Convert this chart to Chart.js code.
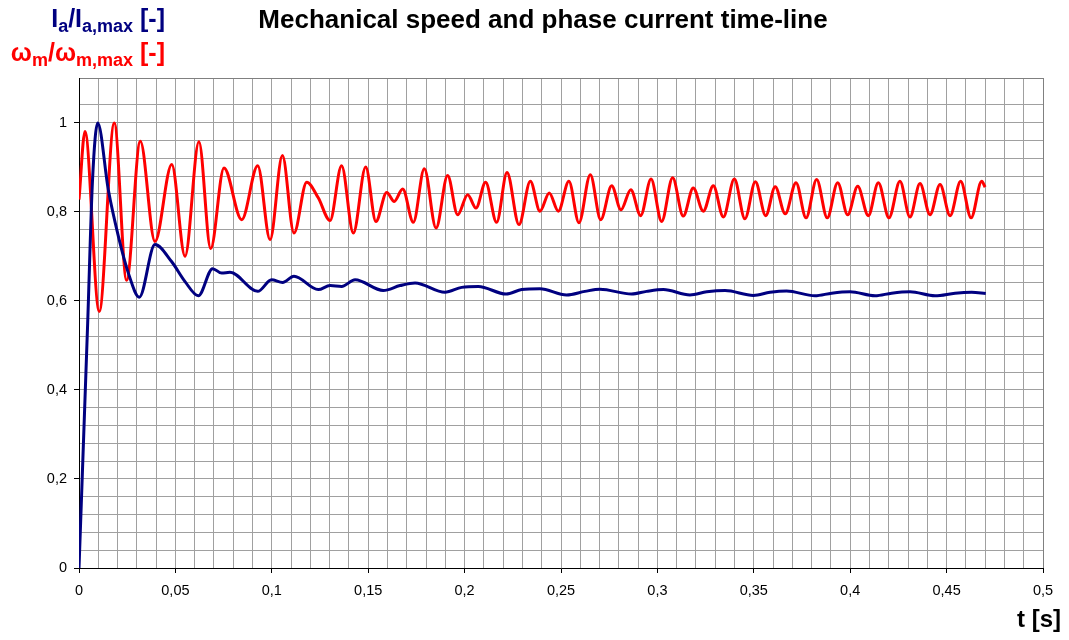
<!DOCTYPE html>
<html>
<head>
<meta charset="utf-8">
<title>Mechanical speed and phase current time-line</title>
<script src="https://cdn.jsdelivr.net/npm/chart.js@4/dist/chart.umd.min.js"></script>
<style>
  html, body { margin: 0; padding: 0; background: #fff; }
  #wrap { width: 1069px; height: 640px; }
</style>
</head>
<body>
<div id="wrap"><canvas id="chart" width="1069" height="640"></canvas></div>
<script>
// --- Data (time in s, values normalised) ---

// mechanical speed w_m / w_m,max (red)
const speedTime = [
  0, 0.0031, 0.0105, 0.0183, 0.0247, 0.0318, 0.0394, 0.0481, 0.055, 0.0622,
  0.0683, 0.0752, 0.0844, 0.0927, 0.0991, 0.1055, 0.1115, 0.1181, 0.1241, 0.1302,
  0.1362, 0.1423, 0.1487, 0.154, 0.1596, 0.1635, 0.1679, 0.1734, 0.1791, 0.1852,
  0.1912, 0.1964, 0.2016, 0.2059, 0.2109, 0.2166, 0.222, 0.2282, 0.2341, 0.2391,
  0.2439, 0.2486, 0.2541, 0.2593, 0.2652, 0.2706, 0.2763, 0.2811, 0.2862, 0.2913,
  0.2967, 0.3022, 0.3079, 0.3134, 0.3186, 0.3238, 0.329, 0.3342, 0.3399, 0.3454,
  0.3508, 0.3562, 0.3611, 0.3663, 0.3719, 0.3771, 0.3826, 0.3881, 0.3935, 0.3987,
  0.4039, 0.4094, 0.4146, 0.4201, 0.4258, 0.431, 0.4362, 0.4414, 0.4466, 0.4518,
  0.4573, 0.4627, 0.4682, 0.47
];
const speedValue = [
  0.827, 0.980, 0.576, 0.999, 0.646, 0.958, 0.733, 0.906, 0.700, 0.957,
  0.717, 0.898, 0.782, 0.903, 0.737, 0.926, 0.752, 0.866, 0.831, 0.780,
  0.903, 0.752, 0.900, 0.778, 0.843, 0.823, 0.851, 0.776, 0.896, 0.763,
  0.881, 0.793, 0.838, 0.808, 0.866, 0.776, 0.888, 0.771, 0.868, 0.801,
  0.842, 0.801, 0.868, 0.775, 0.883, 0.782, 0.858, 0.804, 0.849, 0.791,
  0.873, 0.778, 0.876, 0.790, 0.853, 0.801, 0.858, 0.788, 0.873, 0.784,
  0.867, 0.791, 0.856, 0.795, 0.865, 0.786, 0.872, 0.786, 0.865, 0.793,
  0.857, 0.791, 0.865, 0.786, 0.868, 0.788, 0.863, 0.793, 0.861, 0.791,
  0.868, 0.786, 0.868, 0.855
];

// phase current I_a / I_a,max (navy)
const currentTime = [
  0, 0.0045, 0.007, 0.0097, 0.0152, 0.0204, 0.0256, 0.0313, 0.0394, 0.048,
  0.055, 0.0619, 0.0693, 0.074, 0.0783, 0.0927, 0.0999, 0.1056, 0.1115, 0.1241,
  0.1302, 0.1362, 0.1432, 0.1578, 0.1665, 0.1743, 0.1898, 0.1985, 0.2071, 0.2215,
  0.2296, 0.2391, 0.2529, 0.2624, 0.2702, 0.2866, 0.2944, 0.3031, 0.3169, 0.3256,
  0.3351, 0.3498, 0.3584, 0.367, 0.3817, 0.3904, 0.3999, 0.4129, 0.4215, 0.431,
  0.444, 0.4544, 0.463, 0.4703
];
const currentValue = [
  0, 0.55, 0.87, 0.999, 0.849, 0.745, 0.662, 0.608, 0.726, 0.688,
  0.643, 0.611, 0.672, 0.662, 0.664, 0.621, 0.647, 0.641, 0.655, 0.625,
  0.634, 0.632, 0.647, 0.623, 0.634, 0.640, 0.619, 0.630, 0.632, 0.615,
  0.625, 0.627, 0.613, 0.621, 0.626, 0.615, 0.621, 0.625, 0.613, 0.620,
  0.623, 0.612, 0.619, 0.622, 0.611, 0.617, 0.620, 0.611, 0.617, 0.620,
  0.611, 0.617, 0.619, 0.616
];

// axis setup
const xMax = 0.5;
const xMinorStep = 0.01;
const xMajorStep = 0.05;
const yMax = 1.1;
const yMinorStep = 0.04;
const yMajorStep = 0.2;

const FONT = "'Liberation Sans', Arial, sans-serif";

function isMultiple(v, step) {
  const r = v / step;
  return Math.abs(r - Math.round(r)) < 1e-6;
}
function commaNum(v) {
  return String(Number(v.toFixed(2))).replace(".", ",");
}
function toPoints(ts, vs) {
  return ts.map((t, i) => ({ x: t, y: vs[i] }));
}

// text with subscripts, right aligned at xRight
function drawRich(ctx, parts, xRight, baseline, size, color) {
  const subSize = Math.round(size * 0.72);
  let total = 0;
  parts.forEach(([txt, sub]) => {
    ctx.font = `bold ${sub ? subSize : size}px ${FONT}`;
    total += ctx.measureText(txt).width;
  });
  let x = xRight - total;
  ctx.fillStyle = color;
  ctx.textAlign = "left";
  ctx.textBaseline = "alphabetic";
  parts.forEach(([txt, sub]) => {
    ctx.font = `bold ${sub ? subSize : size}px ${FONT}`;
    ctx.fillText(txt, x, sub ? baseline + 5 : baseline);
    x += ctx.measureText(txt).width;
  });
}

const titlesPlugin = {
  id: "titles",
  afterDraw(chart) {
    const ctx = chart.ctx;
    ctx.save();
    // main title
    ctx.font = `bold 26px ${FONT}`;
    ctx.fillStyle = "#000";
    ctx.textAlign = "center";
    ctx.textBaseline = "alphabetic";
    ctx.fillText("Mechanical speed and phase current time-line", 543, 28);

    // y axis titles
    drawRich(ctx, [["I", false], ["a", true], ["/I", false], ["a,max", true], [" [-]", false]],
      165, 27, 25, "#000080");
    drawRich(ctx, [["\u03c9", false], ["m", true], ["/\u03c9", false], ["m,max", true], [" [-]", false]],
      165, 61, 25, "#ff0000");

    // x axis title
    ctx.font = `bold 24px ${FONT}`;
    ctx.fillStyle = "#000";
    ctx.textAlign = "right";
    ctx.fillText("t [s]", 1061, 627);
    ctx.restore();
  },
};

const bgPlugin = {
  id: "bg",
  beforeDraw(chart) {
    const ctx = chart.ctx;
    ctx.save();
    ctx.fillStyle = "#fff";
    ctx.fillRect(0, 0, chart.width, chart.height);
    ctx.restore();
  },
};

new Chart(document.getElementById("chart"), {
  type: "line",
  data: {
    datasets: [
      {
        label: "I_a/I_a,max",
        data: toPoints(currentTime, currentValue),
        borderColor: "#000080",
        borderWidth: 3,
        pointRadius: 0,
        cubicInterpolationMode: "monotone",
        fill: false,
      },
      {
        label: "w_m/w_m,max",
        data: toPoints(speedTime, speedValue),
        borderColor: "#ff0000",
        borderWidth: 3,
        pointRadius: 0,
        cubicInterpolationMode: "monotone",
        fill: false,
      },
    ],
  },
  options: {
    responsive: false,
    animation: false,
    layout: { padding: { left: 0, right: 26, top: 78, bottom: 0 } },
    plugins: {
      legend: { display: false },
      tooltip: { enabled: false },
    },
    scales: {
      x: {
        type: "linear",
        min: 0,
        max: xMax,
        afterFit: (scale) => { scale.height = 72; },
        border: { color: "#000", width: 1 },
        grid: {
          color: (c) => (c.tick && Math.abs(c.tick.value - xMax) < 1e-6 ? "#808080" : "#a0a0a0"),
          tickColor: (c) => (c.tick && isMultiple(c.tick.value, xMajorStep) ? "#000" : "rgba(0,0,0,0)"),
          tickLength: 5,
          lineWidth: 1,
        },
        ticks: {
          stepSize: xMinorStep,
          maxTicksLimit: 100,
          autoSkip: false,
          maxRotation: 0,
          padding: 9,
          color: "#000",
          font: { family: FONT, size: 14.5 },
          callback: (v) => (isMultiple(v, xMajorStep) ? commaNum(v) : ""),
        },
      },
      y: {
        type: "linear",
        min: 0,
        max: yMax,
        afterFit: (scale) => { scale.width = 79; },
        border: { color: "#000", width: 1 },
        grid: {
          color: (c) => (c.tick && Math.abs(c.tick.value - yMax) < 1e-6 ? "#808080" : "#a0a0a0"),
          tickColor: (c) => (c.tick && isMultiple(c.tick.value, yMajorStep) ? "#000" : "rgba(0,0,0,0)"),
          tickLength: 5,
          lineWidth: 1,
        },
        ticks: {
          stepSize: yMinorStep,
          maxTicksLimit: 100,
          autoSkip: false,
          padding: 7,
          color: "#000",
          font: { family: FONT, size: 14.5 },
          callback: (v) => (isMultiple(v, yMajorStep) ? commaNum(v) : ""),
        },
      },
    },
  },
  plugins: [bgPlugin, titlesPlugin],
});
</script>
</body>
</html>
